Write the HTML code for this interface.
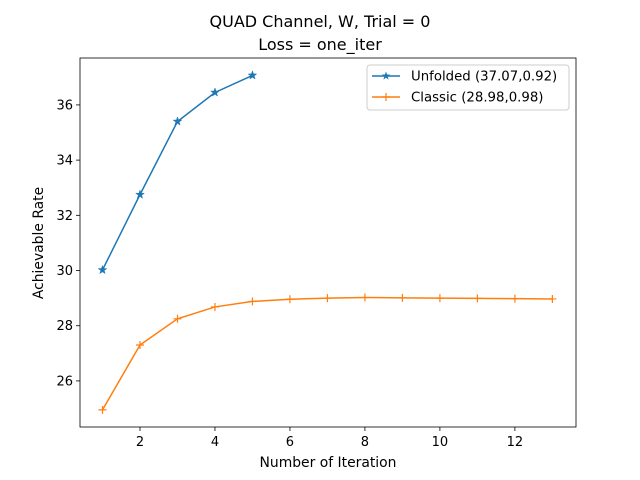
<!DOCTYPE html>
<html><head><meta charset="utf-8"><style>body{margin:0;background:#fff}svg{display:block;font-family:"DejaVu Sans","Liberation Sans",sans-serif}</style></head>
<body>
<svg id="chart" width="640" height="480" xmlns="http://www.w3.org/2000/svg">
<rect width="640" height="480" fill="#fff"/>
<text x="320" y="27" text-anchor="middle" font-size="16">QUAD Channel, W, Trial = 0</text>
<text x="320" y="50" text-anchor="middle" font-size="16">Loss = one_iter</text>
<g id="plot"></g>
<text x="328" y="467" text-anchor="middle" font-size="13.9">Number of Iteration</text>
<text transform="translate(43,243) rotate(-90)" text-anchor="middle" font-size="13.9">Achievable Rate</text>
</svg>
<script>
const unfoldedX=[1,2,3,4,5];
const unfoldedY=[30.02,32.75,35.40,36.45,37.07];
const classicX=[1,2,3,4,5,6,7,8,9,10,11,12,13];
const classicY=[24.95,27.30,28.25,28.68,28.88,28.96,29.00,29.02,29.01,29.00,28.99,28.98,28.97];
const xTicks=[2,4,6,8,10,12];
const yTicks=[26,28,30,32,34,36];
const seriesNames=["Unfolded (37.07,0.92)","Classic (28.98,0.98)"];

const L=80,R=576,T=58,B=427,xmin=0.4,xmax=13.63,ymin=24.33,ymax=37.70;
const sx=v=>L+(v-xmin)/(xmax-xmin)*(R-L);
const sy=v=>B-(v-ymin)/(ymax-ymin)*(B-T);
const NS="http://www.w3.org/2000/svg";
const g=document.getElementById('plot');
function mk(tag,attrs,parent){const e=document.createElementNS(NS,tag);for(const k in attrs)e.setAttribute(k,attrs[k]);(parent||g).appendChild(e);return e;}
xTicks.forEach(t=>{const x=sx(t);
 const l=mk('line',{x1:x,x2:x,y1:B,y2:B+4,stroke:'#000','stroke-width':0.8});
 
 
 const tx=mk('text',{x:x,y:B+19,'text-anchor':'middle','font-size':13});tx.textContent=t;
 
 
});
yTicks.forEach(t=>{const y=sy(t);
 const l=mk('line',{x1:L-4,x2:L,y1:y,y2:y,stroke:'#000','stroke-width':0.8});
 
 
 const tx=mk('text',{x:L-7,y:y+4.5,'text-anchor':'end','font-size':13});tx.textContent=t;
 
 
});
function star(cx,cy,r){let p=[];for(let i=0;i<10;i++){const a=-Math.PI/2+i*Math.PI/5;const rr=i%2?r*0.4:r;p.push((cx+rr*Math.cos(a)).toFixed(1)+','+(cy+rr*Math.sin(a)).toFixed(1));}return p.join(' ');}
function series(xs,ys,color,marker,name){
 const pl=mk('polyline',{points:xs.map((x,i)=>sx(x)+','+sy(ys[i])).join(' '),fill:'none',stroke:color,'stroke-width':1.5});
 
 
 xs.forEach((x,i)=>{const cx=sx(x),cy=sy(ys[i]);let m;
  if(marker==='star')m=mk('polygon',{points:star(cx,cy,4.5),fill:color,stroke:color,'stroke-width':0.5});
  else m=mk('path',{d:`M${cx-4},${cy}H${cx+4}M${cx},${cy-4}V${cy+4}`,stroke:color,'stroke-width':1.2});
  
  
 });
}
series(unfoldedX,unfoldedY,'#1f77b4','star','unfolded');
series(classicX,classicY,'#ff7f0e','plus','classic');
const fr=mk('rect',{x:L,y:T,width:R-L,height:B-T,fill:'none',stroke:'#000','stroke-width':0.8});


const lg=mk('g',{});


mk('rect',{x:367,y:65,width:202,height:45,rx:3,fill:'#fff','fill-opacity':0.8,stroke:'#ccc'},lg);
const colors=['#1f77b4','#ff7f0e'];
seriesNames.forEach((n,i)=>{const y=76+i*21;
 mk('line',{x1:372,x2:400,y1:y,y2:y,stroke:colors[i],'stroke-width':1.5},lg);
 if(i===0)mk('polygon',{points:star(386,y,4.5),fill:colors[i]},lg);
 else mk('path',{d:`M382,${y}H390M386,${y-4}V${y+4}`,stroke:colors[i],'stroke-width':1.2},lg);
 const t=mk('text',{x:411,y:y+4.5,'font-size':13.3},lg);t.textContent=n;
 
 
});
</script>
</body></html>
